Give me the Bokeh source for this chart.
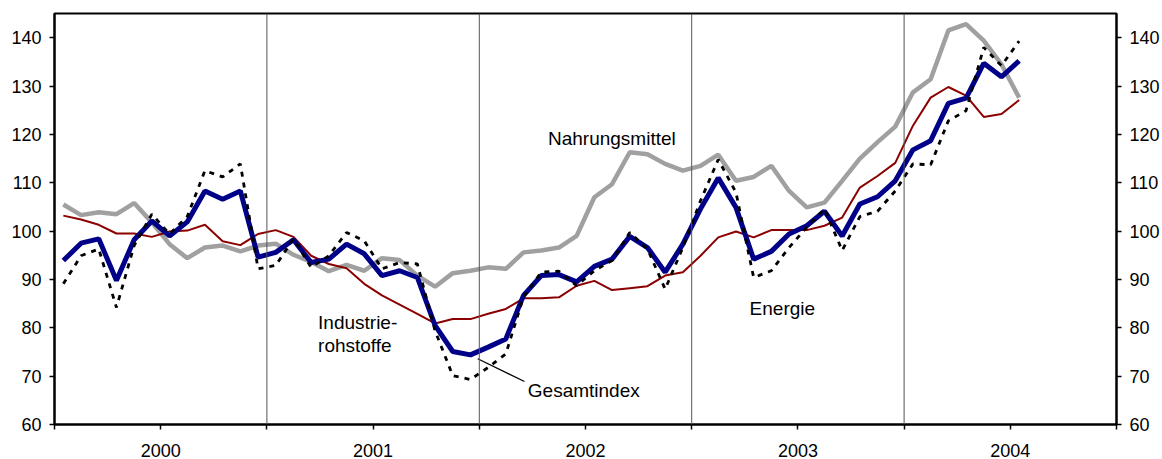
from bokeh.plotting import figure
from bokeh.models import FixedTicker, LinearAxis, Range1d, Span, Label, ColumnDataSource
from bokeh.embed import file_html
from bokeh.resources import INLINE

# ---- data (monthly, Jan 2000 .. Jul 2004) ----
years = ["2000", "2001", "2002", "2003", "2004"]
gesamtindex = [93.9, 97.5, 98.4, 89.8, 98.2, 102.1, 99.0, 101.9, 108.3, 106.6, 108.3,
               94.6, 95.6, 98.2, 93.5, 94.2, 97.3, 95.3, 90.8, 91.8, 90.4,
               80.5, 75.1, 74.4, 76.0, 77.7, 86.7, 90.8, 91.0, 89.5, 92.7,
               94.2, 98.9, 96.6, 91.5, 97.3, 104.6, 111.0, 104.9, 94.2, 95.8,
               99.4, 101.1, 104.1, 99.0, 105.6, 107.1, 110.4, 116.8, 118.7, 126.4,
               127.5, 134.7, 131.9, 135.2]
energie = [89.1, 94.9, 96.3, 84.2, 97.0, 103.5, 99.4, 103.0, 112.5, 111.2, 113.9,
           92.2, 92.9, 98.4, 92.5, 94.9, 99.7, 98.0, 92.2, 93.5, 93.2,
           79.4, 70.1, 69.3, 71.8, 74.6, 86.4, 91.5, 91.7, 88.7, 91.8,
           93.9, 99.7, 96.3, 88.0, 96.6, 106.3, 114.8, 108.0, 90.4, 91.8,
           96.6, 100.8, 104.6, 96.0, 103.0, 104.1, 108.3, 113.9, 113.7, 122.8,
           124.9, 138.0, 134.2, 139.3]
nahrungsmittel = [105.5, 103.3, 103.9, 103.5, 105.8, 101.8, 97.3, 94.4, 96.6, 97.0, 95.8,
                  97.0, 97.4, 95.1, 93.6, 91.7, 93.0, 91.8, 94.4, 94.0, 90.8,
                  88.5, 91.3, 91.8, 92.5, 92.2, 95.6, 96.0, 96.6, 99.0, 107.0,
                  109.7, 116.3, 115.9, 113.9, 112.5, 113.5, 115.8, 110.4, 111.2, 113.5,
                  108.3, 104.9, 105.9, 110.4, 115.0, 118.4, 121.6, 128.7, 131.4, 141.5,
                  142.8, 139.4, 134.5, 127.6]
industrierohstoffe = [103.2, 102.4, 101.3, 99.5, 99.5, 98.8, 99.9, 100.1, 101.3, 97.9, 97.1,
                      99.4, 100.2, 98.8, 94.9, 93.2, 92.3, 89.1, 86.7, 84.8, 82.9,
                      80.9, 81.8, 81.8, 82.9, 83.9, 86.1, 86.1, 86.3, 88.7, 89.7,
                      87.8, 88.2, 88.6, 90.8, 91.5, 94.9, 98.7, 99.9, 98.7, 100.2,
                      100.2, 100.2, 101.1, 102.8, 109.0, 111.4, 114.1, 121.8, 127.6, 129.8,
                      128.0, 123.6, 124.2, 127.1]
y_ticks = [60, 70, 80, 90, 100, 110, 120, 130, 140]

months = [i + 0.5 for i in range(len(gesamtindex))]
src = ColumnDataSource(dict(x=months, g=gesamtindex, e=energie,
                            n=nahrungsmittel, r=industrierohstoffe))

FONT = "Liberation Sans"
FS_TICK = "18px"
FS_LAB = "19px"

p = figure(width=1162, height=459, output_backend="svg", toolbar_location=None,
           x_range=Range1d(0, 60), y_range=Range1d(60, 145),
           min_border_left=54, min_border_right=46, min_border_top=13,
           min_border_bottom=35, y_axis_location=None)
p.xgrid.visible = False
p.ygrid.visible = False
p.outline_line_color = "black"
p.outline_line_width = 2
p.background_fill_color = "white"
p.border_fill_color = "white"

# year separators
for k in range(1, 5):
    p.add_layout(Span(location=12 * k, dimension="height", line_color="#555555", line_width=1))

p.line("x", "n", source=src, line_color="#a0a0a0", line_width=4.5)
p.line("x", "r", source=src, line_color="#8b0000", line_width=2)
p.line("x", "g", source=src, line_color="#000088", line_width=5)
p.line("x", "e", source=src, line_color="black", line_width=2.8, line_dash="5 6")

# axes
xt = list(range(0, 61, 6))
xa = p.xaxis[0]
xa.ticker = FixedTicker(ticks=xt)
overrides = {t: "" for t in xt}
for j, yr in enumerate(years):
    overrides[6 + 12 * j] = yr
xa.major_label_overrides = overrides

for side in ("left", "right"):
    ax = LinearAxis(ticker=FixedTicker(ticks=y_ticks))
    p.add_layout(ax, side)

for ax in p.axis:
    ax.axis_line_color = "black"
    ax.axis_line_width = 2
    ax.major_tick_line_color = "black"
    ax.major_tick_line_width = 1.5
    ax.major_tick_in = 0
    ax.major_tick_out = 5
    ax.minor_tick_line_color = None
    ax.major_label_text_font = FONT
    ax.major_label_text_font_size = FS_TICK
    ax.major_label_text_color = "black"
    ax.major_label_standoff = 8
xa.major_label_standoff = 14

# series labels
def lab(x, y, t):
    p.add_layout(Label(x=x, y=y, text=t, text_font=FONT, text_font_size=FS_LAB,
                       text_color="black", text_baseline="alphabetic", text_align="left"))

lab(27.88, 119.2, "Nahrungsmittel")
lab(14.89, 81.1, "Industrie-")
lab(14.89, 76.3, "rohstoffe")
lab(26.74, 67.0, "Gesamtindex")
lab(39.27, 83.9, "Energie")

# pointer for Gesamtindex
p.line([23.91, 26.55], [73.6, 68.9], line_color="black", line_width=1.3)

open("out.html", "w").write(file_html(p, INLINE))
